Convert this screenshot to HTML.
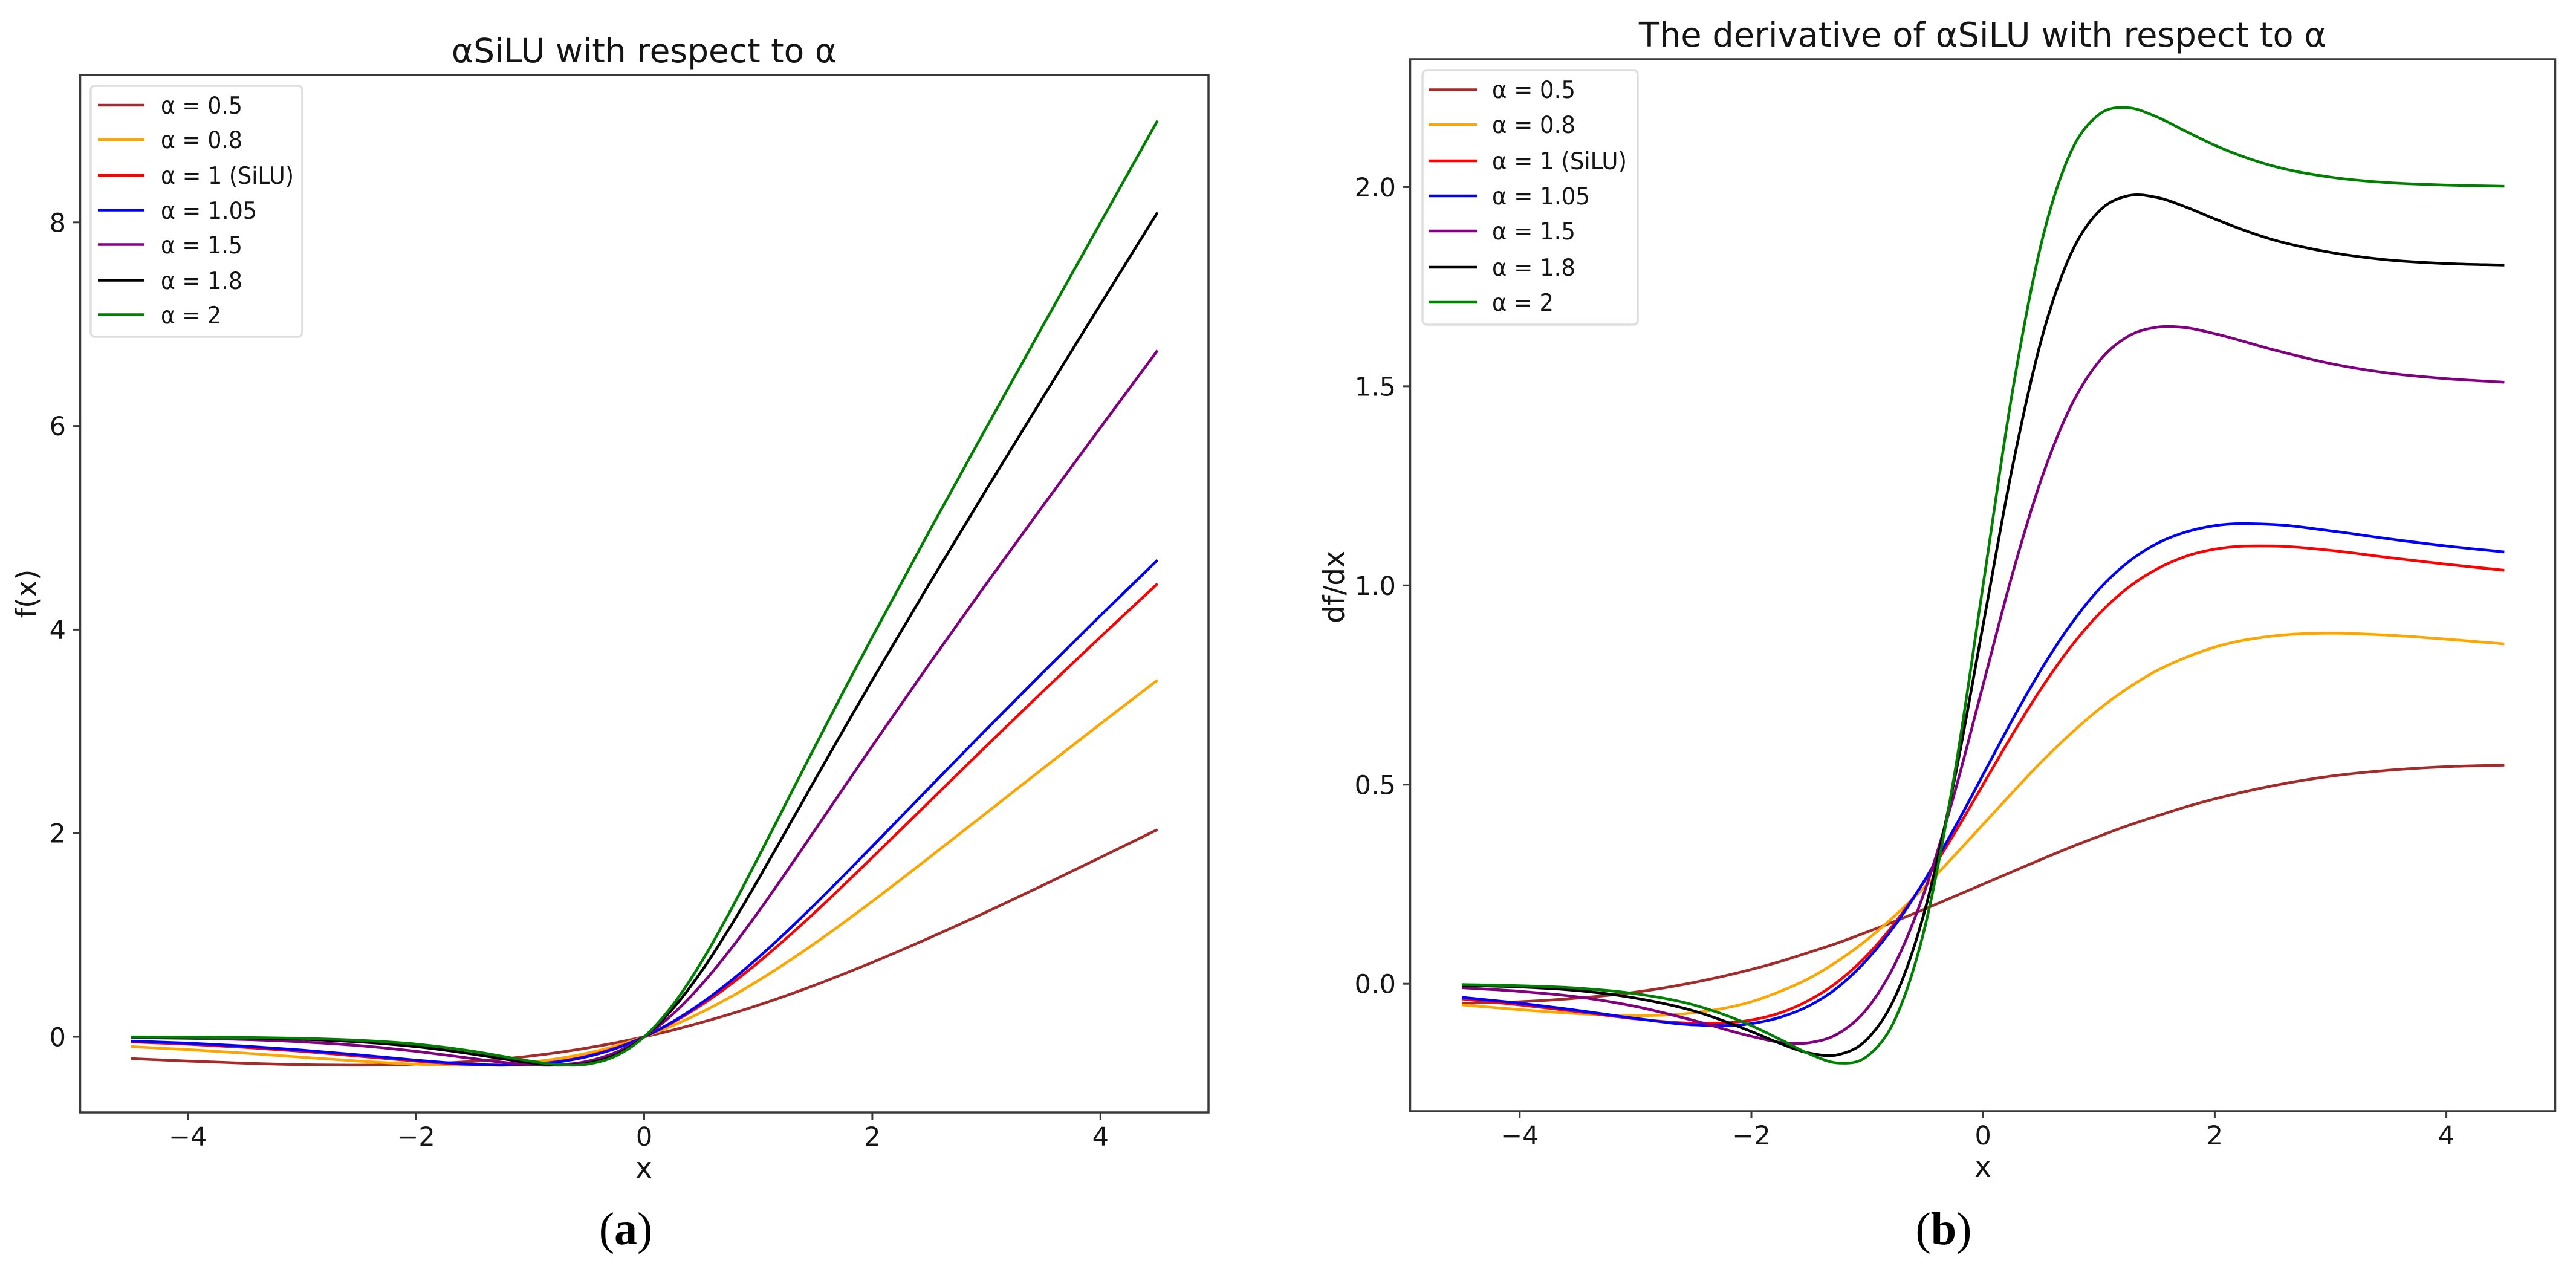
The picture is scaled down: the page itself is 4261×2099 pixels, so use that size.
<!DOCTYPE html>
<html lang="en">
<head>
<meta charset="utf-8">
<title>αSiLU and its derivative</title>
<style>
html,body{margin:0;padding:0;background:#fff;}
svg{display:block;}
text{font-family:"DejaVu Sans","Liberation Sans",sans-serif;fill:#151515;}
.title{text-anchor:middle;}
.axis-label{font-size:47px;text-anchor:middle;}
.legend-label{font-size:39.5px;}
.tick-label{font-size:43px;}
.caption{font-family:"Liberation Serif",serif;font-size:76px;text-anchor:middle;fill:#000;}
.caption tspan{font-weight:bold;}
.frame{fill:none;stroke:#3a3a3a;stroke-width:3.5;}
.legend-box{fill:#fff;stroke:#dedede;stroke-width:3.5;}
.swatch{stroke-width:4.5;fill:none;}
.curve{fill:none;stroke-width:4.5;stroke-linejoin:round;}
</style>
</head>
<body>
<svg id="fig" xmlns="http://www.w3.org/2000/svg" width="4261" height="2099" viewBox="0 0 4261 2099">
  <rect x="0" y="0" width="4261" height="2099" fill="#fff"/>

  <g id="panel-a">
    <text class="title" font-size="55" x="1065.5" y="103">αSiLU with respect to α</text>
    <text class="axis-label" x="1065" y="1948">x</text>
    <text class="axis-label" transform="translate(60 982) rotate(-90)" x="0" y="0">f(x)</text>
    <rect class="frame" x="132.5" y="124" width="1866.5" height="1716"/>
  </g>

  <g id="panel-b">
    <text class="title" font-size="55.8" x="3279.5" y="77">The derivative of αSiLU with respect to α</text>
    <text class="axis-label" x="3280" y="1946">x</text>
    <text class="axis-label" transform="translate(2223 971) rotate(-90)" x="0" y="0">df/dx</text>
    <rect class="frame" x="2332.5" y="98" width="1894" height="1740"/>
  </g>

  <text class="caption" x="1035" y="2058">(<tspan>a</tspan>)</text>
  <text class="caption" x="3215" y="2058">(<tspan>b</tspan>)</text>

  <g id="legend-a">
    <rect class="legend-box" x="150" y="142" width="350" height="415" rx="7"/>
    <g><line class="swatch" x1="162" x2="239" y1="174" y2="174" stroke="brown"/><text class="legend-label" x="266" y="188" textLength="135" lengthAdjust="spacingAndGlyphs">α = 0.5</text></g>
    <g><line class="swatch" x1="162" x2="239" y1="231" y2="231" stroke="orange"/><text class="legend-label" x="266" y="245" textLength="135" lengthAdjust="spacingAndGlyphs">α = 0.8</text></g>
    <g><line class="swatch" x1="162" x2="239" y1="290" y2="290" stroke="red"/><text class="legend-label" x="266" y="304" textLength="220" lengthAdjust="spacingAndGlyphs">α = 1 (SiLU)</text></g>
    <g><line class="swatch" x1="162" x2="239" y1="347.5" y2="347.5" stroke="blue"/><text class="legend-label" x="266" y="362" textLength="159" lengthAdjust="spacingAndGlyphs">α = 1.05</text></g>
    <g><line class="swatch" x1="162" x2="239" y1="404.5" y2="404.5" stroke="purple"/><text class="legend-label" x="266" y="419" textLength="135" lengthAdjust="spacingAndGlyphs">α = 1.5</text></g>
    <g><line class="swatch" x1="162" x2="239" y1="463.5" y2="463.5" stroke="black"/><text class="legend-label" x="266" y="478" textLength="135" lengthAdjust="spacingAndGlyphs">α = 1.8</text></g>
    <g><line class="swatch" x1="162" x2="239" y1="520.5" y2="520.5" stroke="green"/><text class="legend-label" x="266" y="535" textLength="100" lengthAdjust="spacingAndGlyphs">α = 2</text></g>
  </g>

  <g id="legend-b">
    <rect class="legend-box" x="2353" y="116" width="356" height="421" rx="7"/>
    <g><line class="swatch" x1="2363" x2="2443" y1="148.5" y2="148.5" stroke="brown"/><text class="legend-label" x="2468" y="162" textLength="138" lengthAdjust="spacingAndGlyphs">α = 0.5</text></g>
    <g><line class="swatch" x1="2363" x2="2443" y1="206" y2="206" stroke="orange"/><text class="legend-label" x="2468" y="220" textLength="138" lengthAdjust="spacingAndGlyphs">α = 0.8</text></g>
    <g><line class="swatch" x1="2363" x2="2443" y1="266" y2="266" stroke="red"/><text class="legend-label" x="2468" y="280" textLength="223" lengthAdjust="spacingAndGlyphs">α = 1 (SiLU)</text></g>
    <g><line class="swatch" x1="2363" x2="2443" y1="324" y2="324" stroke="blue"/><text class="legend-label" x="2468" y="338" textLength="162" lengthAdjust="spacingAndGlyphs">α = 1.05</text></g>
    <g><line class="swatch" x1="2363" x2="2443" y1="382" y2="382" stroke="purple"/><text class="legend-label" x="2468" y="396" textLength="138" lengthAdjust="spacingAndGlyphs">α = 1.5</text></g>
    <g><line class="swatch" x1="2363" x2="2443" y1="442" y2="442" stroke="black"/><text class="legend-label" x="2468" y="456" textLength="138" lengthAdjust="spacingAndGlyphs">α = 1.8</text></g>
    <g><line class="swatch" x1="2363" x2="2443" y1="500" y2="500" stroke="green"/><text class="legend-label" x="2468" y="514" textLength="102" lengthAdjust="spacingAndGlyphs">α = 2</text></g>
  </g>
</svg>

<script>
const xValues = [-4.5,-4,-3.5,-3,-2.5,-2,-1.75,-1.5,-1.25,-1,-0.75,-0.5,-0.25,0,0.25,0.5,0.75,1,1.25,1.5,1.75,2,2.5,3,3.5,4,4.5];

const xTicks = [-4,-2,0,2,4];
const xTickLabels = ['−4','−2','0','2','4'];
const yTicksA = [0,2,4,6,8];
const yTickLabelsA = ['0','2','4','6','8'];
const yTicksB = [0,0.5,1,1.5,2];
const yTickLabelsB = ['0.0','0.5','1.0','1.5','2.0'];

const seriesNames = ['alpha-0-5','alpha-0-8','alpha-1-silu','alpha-1-05','alpha-1-5','alpha-1-8','alpha-2'];
const seriesColors = ['brown','orange','red','blue','purple','black','green'];

/* Panel (a): f(x) */
const fAlpha05  = [-.214,-.238,-.259,-.274,-.278,-.269,-.257,-.241,-.218,-.189,-.153,-.109,-.059,0,.066,.141,.222,.311,.407,.509,.618,.731,.972,1.226,1.491,1.762,2.036];
const fAlpha08  = [-.096,-.125,-.160,-.200,-.238,-.269,-.277,-.278,-.269,-.248,-.213,-.161,-.090,0,.110,.240,.387,.552,.731,.922,1.123,1.331,1.762,2.200,2.640,3.075,3.504];
const fAlpha1   = [-.050,-.072,-.103,-.142,-.190,-.238,-.259,-.274,-.278,-.269,-.241,-.189,-.109,0,.141,.311,.509,.731,.972,1.226,1.491,1.762,2.310,2.858,3.398,3.928,4.451];
const fAlpha105 = [-.042,-.062,-.091,-.130,-.177,-.229,-.252,-.270,-.278,-.272,-.246,-.195,-.114,0,.148,.330,.541,.778,1.034,1.305,1.585,1.871,2.448,3.021,3.584,4.138,4.683];
const fAlpha15  = [-.008,-.015,-.027,-.050,-.086,-.142,-.177,-.214,-.249,-.274,-.276,-.241,-.153,0,.222,.509,.849,1.226,1.626,2.036,2.448,2.858,3.664,4.451,5.223,5.985,6.742];
const fAlpha18  = [-.002,-.005,-.011,-.024,-.050,-.096,-.130,-.170,-.214,-.255,-.278,-.260,-.175,0,.275,.640,1.072,1.545,2.036,2.530,3.021,3.504,4.451,5.376,6.289,7.195,8.098];
const fAlpha2   = [-.001,-.003,-.006,-.015,-.034,-.072,-.103,-.142,-.190,-.238,-.274,-.269,-.189,0,.311,.731,1.226,1.762,2.310,2.858,3.398,3.928,4.967,5.985,6.994,7.997,8.999];

/* Panel (b): df/dx */
const dAlpha05  = [-.049,-.045,-.036,-.021,.003,.036,.056,.079,.103,.130,.158,.188,.219,.250,.281,.312,.342,.370,.397,.421,.444,.464,.497,.521,.536,.545,.549];
const dAlpha08  = [-.053,-.065,-.075,-.080,-.073,-.045,-.019,.014,.058,.111,.174,.244,.321,.400,.479,.556,.626,.689,.742,.786,.819,.845,.873,.880,.875,.865,.853];
const dAlpha1   = [-.038,-.053,-.070,-.088,-.099,-.091,-.073,-.041,.006,.072,.157,.260,.376,.500,.624,.740,.843,.928,.994,1.041,1.073,1.091,1.099,1.088,1.070,1.053,1.038];
const dAlpha105 = [-.034,-.049,-.067,-.087,-.103,-.100,-.084,-.055,-.008,.061,.151,.262,.389,.525,.661,.788,.899,.990,1.058,1.105,1.134,1.150,1.153,1.137,1.117,1.099,1.084];
const dAlpha15  = [-.010,-.019,-.033,-.057,-.092,-.132,-.147,-.148,-.125,-.062,.056,.236,.475,.750,1.025,1.264,1.445,1.562,1.625,1.648,1.647,1.632,1.592,1.557,1.533,1.519,1.510];
const dAlpha18  = [-.004,-.008,-.017,-.036,-.068,-.120,-.150,-.174,-.178,-.139,-.027,.187,.508,.900,1.292,1.613,1.827,1.939,1.978,1.974,1.950,1.920,1.868,1.836,1.817,1.808,1.804];
const dAlpha2   = [-.002,-.005,-.011,-.025,-.053,-.105,-.140,-.176,-.199,-.182,-.083,.145,.520,1.000,1.480,1.855,2.083,2.182,2.199,2.176,2.140,2.105,2.053,2.025,2.011,2.005,2.002];

const fSeries = [fAlpha05,fAlpha08,fAlpha1,fAlpha105,fAlpha15,fAlpha18,fAlpha2];
const dSeries = [dAlpha05,dAlpha08,dAlpha1,dAlpha105,dAlpha15,dAlpha18,dAlpha2];

const NS = 'http://www.w3.org/2000/svg';

function xScaleA(v){ return 1065.5 + 188.7 * v; }
function yScaleA(v){ return 1715 - 168.4 * v; }
function xScaleB(v){ return 3280.2 + 191.6 * v; }
function yScaleB(v){ return 1627.2 - 658.9 * v; }

function make(tag, attrs, parent){
  const el = document.createElementNS(NS, tag);
  for (const k in attrs) el.setAttribute(k, attrs[k]);
  parent.appendChild(el);
  return el;
}

/* Smooth cubic path through the samples, with three-point tangents. */
function smoothPath(xs, ys){
  const n = xs.length, m = [];
  for (let i = 0; i < n; i++){
    if (i === 0) m.push((ys[1]-ys[0])/(xs[1]-xs[0]));
    else if (i === n-1) m.push((ys[n-1]-ys[n-2])/(xs[n-1]-xs[n-2]));
    else {
      const h0 = xs[i]-xs[i-1], h1 = xs[i+1]-xs[i];
      const d0 = (ys[i]-ys[i-1])/h0, d1 = (ys[i+1]-ys[i])/h1;
      m.push((d0*h1+d1*h0)/(h0+h1));
    }
  }
  let d = 'M' + xs[0].toFixed(2) + ' ' + ys[0].toFixed(2);
  for (let i = 0; i < n-1; i++){
    const h = (xs[i+1]-xs[i])/3;
    d += 'C' + (xs[i]+h).toFixed(2) + ' ' + (ys[i]+m[i]*h).toFixed(2) + ' ' +
         (xs[i+1]-h).toFixed(2) + ' ' + (ys[i+1]-m[i+1]*h).toFixed(2) + ' ' +
         xs[i+1].toFixed(2) + ' ' + ys[i+1].toFixed(2);
  }
  return d;
}

function drawPanel(prefix, group, xScale, yScale, series, yTicks, yLabels, plot){
  const tickColor = '#3a3a3a';

  xTicks.forEach(function(t, i){
    const px = xScale(t);
    const tick = make('line', {x1:px, x2:px, y1:plot.bottom, y2:plot.bottom+12, stroke:tickColor, 'stroke-width':3}, group);
    
    
    const label = make('text', {class:'tick-label', x:px, y:plot.bottom+55, 'text-anchor':'middle'}, group);
    label.textContent = xTickLabels[i];
    
    
  });

  yTicks.forEach(function(t, i){
    const py = yScale(t);
    const tick = make('line', {x1:plot.left-12, x2:plot.left, y1:py, y2:py, stroke:tickColor, 'stroke-width':3}, group);
    
    
    const label = make('text', {class:'tick-label', x:plot.left-23.5, y:py+15.5, 'text-anchor':'end'}, group);
    label.textContent = yLabels[i];
    
    
  });

  series.forEach(function(values, s){
    const px = xValues.map(xScale);
    const py = values.map(yScale);
    const curve = make('path', {class:'curve', d:smoothPath(px, py), stroke:seriesColors[s]}, group);
    
    
  });
}

drawPanel('panel-a', document.getElementById('panel-a'), xScaleA, yScaleA, fSeries, yTicksA, yTickLabelsA, {left:132.5, bottom:1840});
drawPanel('panel-b', document.getElementById('panel-b'), xScaleB, yScaleB, dSeries, yTicksB, yTickLabelsB, {left:2332.5, bottom:1838});
</script>
</body>
</html>
